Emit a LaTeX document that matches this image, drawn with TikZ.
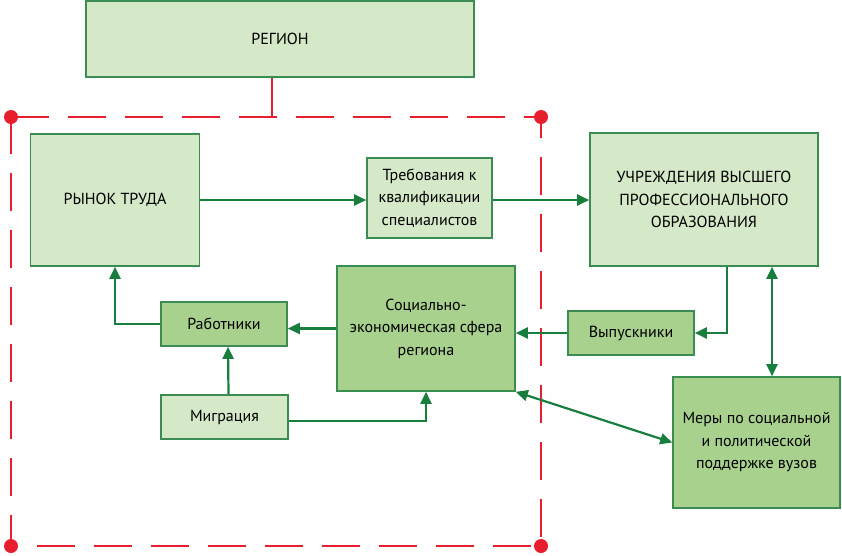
\documentclass[tikz,border=0pt]{standalone}
\usepackage{fontspec}
\setmainfont{PT Sans}
\definecolor{boxlight}{RGB}{213, 232, 200}
\definecolor{boxdark}{RGB}{169, 209, 142}
\definecolor{boxline}{RGB}{58, 140, 82}
\definecolor{flowgreen}{RGB}{24, 126, 62}
\definecolor{regionred}{RGB}{230, 30, 45}
\usetikzlibrary{arrows.meta, positioning}

\begin{document}
\begin{tikzpicture}[x=1pt, y=-1pt, >={Triangle[length=12pt, width=11pt]},
  lightbox/.style={draw=boxline, fill=boxlight, line width=1.6pt, align=center, inner sep=2pt, font=\fontsize{16}{22.5}\selectfont},
  darkbox/.style={lightbox, fill=boxdark},
  flow/.style={line width=2.2pt, flowgreen},
  frame/.style={line width=2.4pt, regionred, dash pattern=on 38pt off 19pt}]
  \useasboundingbox (0,0) rectangle (842,555);

  % Region and its border
  \node (region) [lightbox, minimum width=388pt, minimum height=76pt] at (280,39) {РЕГИОН};

  \coordinate (tl) at (11,117);
  \coordinate (tr) at (541,117);
  \coordinate (br) at (541,546);
  \coordinate (bl) at (11,546);
  \draw[frame] (tl) -- (tr) -- (br) -- (bl) -- cycle;
  \draw[line width=2.4pt, regionred] ([xshift=-8pt]region.south) -- ([xshift=-8pt]region.south |- tl);
  \foreach \c in {tl, tr, br, bl}
    \fill[regionred] (\c) circle (7pt);

  % Boxes
  \node (rynok) [lightbox, minimum width=169pt, minimum height=132pt] at (115,200) {РЫНОК ТРУДА};
  \node (treb) [lightbox, minimum width=125pt, minimum height=80pt] at (429.5,198) {Требования к\\квалификации\\специалистов};
  \node (uchr) [lightbox, minimum width=228pt, minimum height=133pt] at (704,199.5) {УЧРЕЖДЕНИЯ ВЫСШЕГО\\ПРОФЕССИОНАЛЬНОГО\\ОБРАЗОВАНИЯ};
  \node (soc) [darkbox, minimum width=178pt, minimum height=125pt] at (426,328.5) {Социально-\\экономическая сфера\\региона};
  \node (vyp) [darkbox, minimum width=126pt, minimum height=44pt] at (631,333) {Выпускники};
  \node (rab) [darkbox, minimum width=126pt, minimum height=44pt] at (224,324) {Работники};
  \node (migr) [lightbox, minimum width=127pt, minimum height=44pt] at (224.5,417) {Миграция};
  \node (mery) [darkbox, minimum width=167pt, minimum height=131pt] at (756.5,442.5) {Меры по социальной\\и политической\\поддержке вузов};

  % Connectors
  \draw[->, flow] (rynok.east) -- (rynok.east -| treb.west);
  \draw[->, flow] (rynok.east -| treb.east) -- (rynok.east -| uchr.west);
  \draw[->, flow] ([xshift=23pt]uchr.south) |- (vyp.east);
  \draw[<->, flow] ([xshift=68pt]uchr.south) -- ([xshift=68pt]uchr.south |- mery.north);
  \draw[->, flow] (vyp.west) -- (vyp.west -| soc.east);
  \draw[->, flow] (soc.west) -- (soc.west -| rab.east);
  \draw[->, flow] (rab.west) -| (rynok.south);
  \draw[->, flow] ([xshift=4pt]migr.north) -- ([xshift=4pt]rab.south);
  \draw[->, flow] ([yshift=-4pt]migr.east) -| (soc.south);
  \draw[<->, flow] (soc.south east) -- (mery.west);

\end{tikzpicture}
\end{document}
